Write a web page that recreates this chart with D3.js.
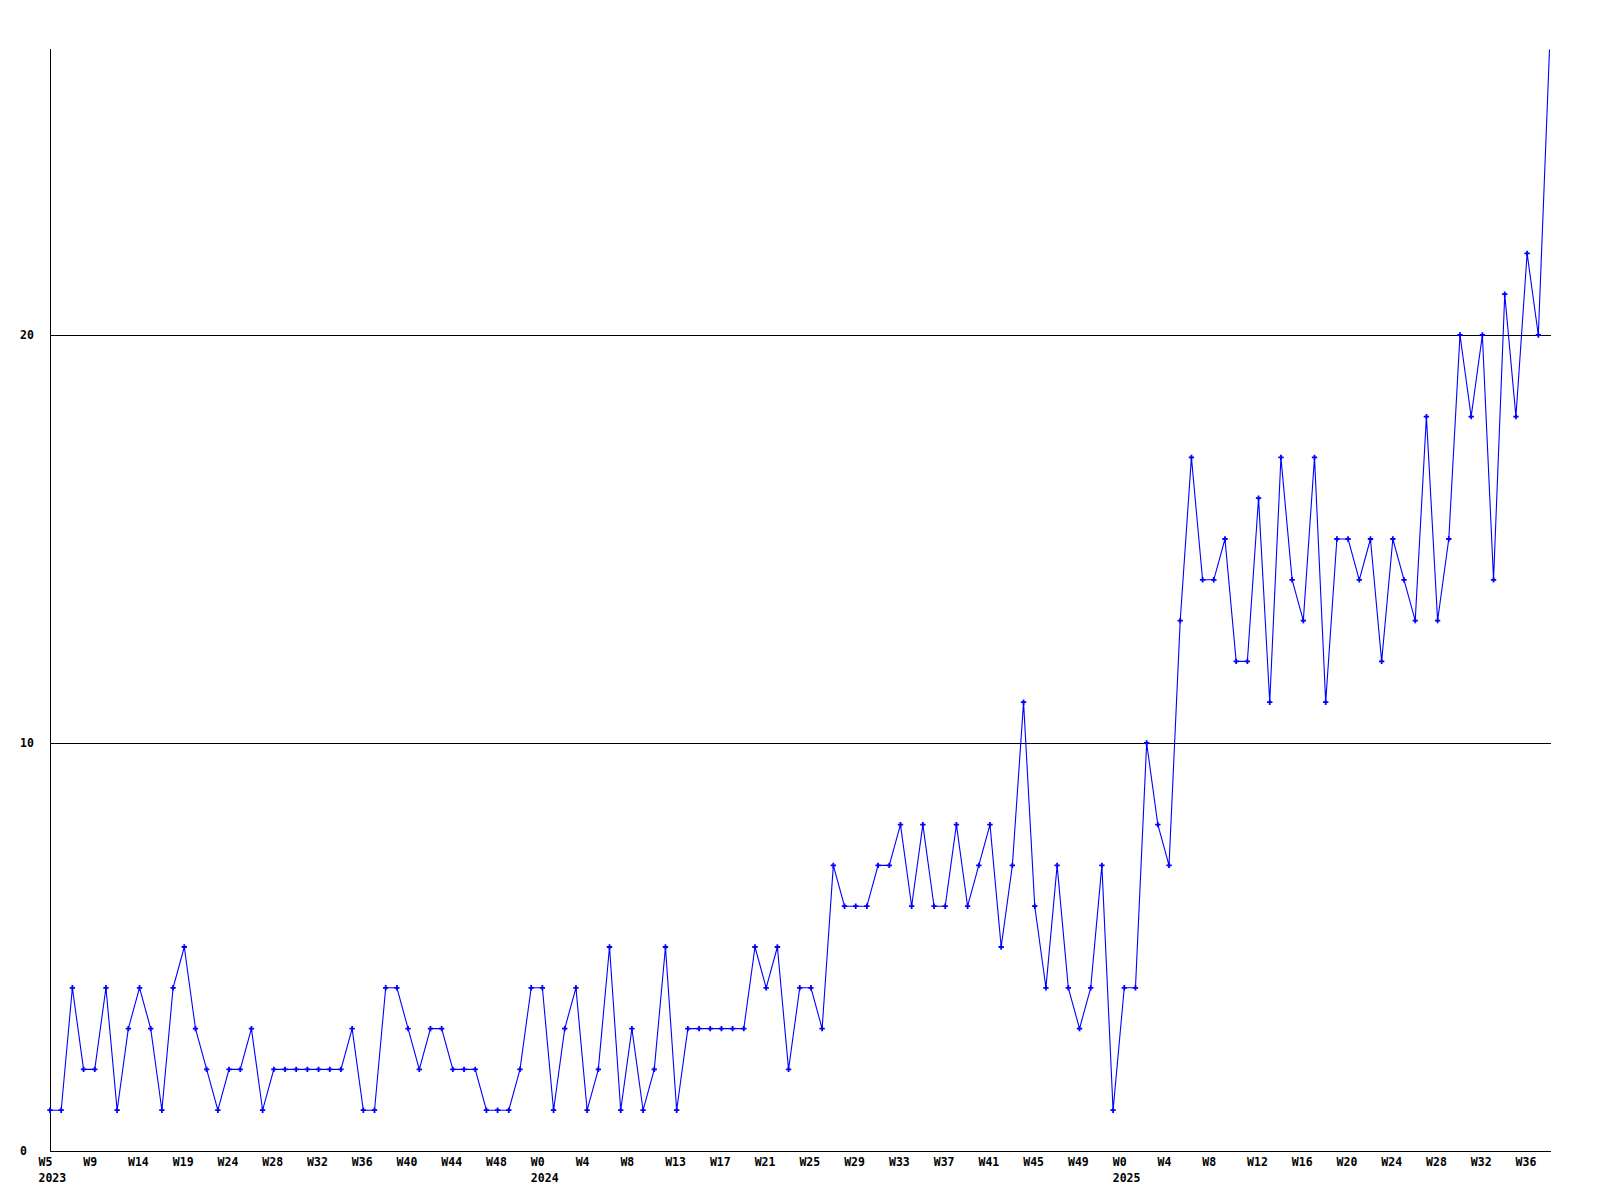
<!DOCTYPE html>
<html>
<head>
<meta charset="utf-8">
<script src="https://cdn.jsdelivr.net/npm/d3@7"></script>
<style>
  html, body { margin: 0; padding: 0; background: #ffffff; }
  svg { display: block; }
  text { font-family: "DejaVu Sans Mono", "Liberation Mono", monospace; font-weight: bold; font-size: 11.5px; fill: #000; }
</style>
</head>
<body>
<svg id="chart" width="1600" height="1200"></svg>
<script>
// Weekly values, W5 2023 .. W38 2025 (one per point)
const values = [
  1,1,4,2,2,4,1,3,4,3,
  1,4,5,3,2,1,2,2,3,1,
  2,2,2,2,2,2,2,3,1,1,
  4,4,3,2,3,3,2,2,2,1,
  1,1,2,4,4,1,3,4,1,2,
  5,1,3,1,2,5,1,3,3,3,
  3,3,3,5,4,5,2,4,4,3,
  7,6,6,6,7,7,8,6,8,6,
  6,8,6,7,8,5,7,11,6,4,
  7,4,3,4,7,1,4,4,10,8,
  7,13,17,14,14,15,12,12,16,11,
  17,14,13,17,11,15,15,14,15,12,
  15,14,13,18,13,15,20,18,20,14,
  21,18,22,20,27
];
// Week tick labels, one every 4th point
const weekLabels = ["W5","W9","W14","W19","W24","W28","W32","W36","W40","W44","W48",
  "W0","W4","W8","W13","W17","W21","W25","W29","W33","W37","W41","W45","W49",
  "W0","W4","W8","W12","W16","W20","W24","W28","W32","W36"];
const tickEvery = 4;
// Year labels and the point index at which each year starts
const yearLabels = ["2023","2024","2025"];
const yearStarts = [0, 44, 96];
// Y axis ticks
const yTicks = [0, 10, 20];
const yMax = 27;

const svg = d3.select("#chart");
const mLeft = 50, mRight = 1549.5, mTop = 49.4, mBottom = 1151;

const x = d3.scalePoint().domain(d3.range(values.length)).range([mLeft, mRight]);
const y = d3.scaleLinear().domain([0, yMax]).range([mBottom, mTop]);

// horizontal grid lines
svg.append("g").selectAll("line")
  .data(yTicks.filter(d => d > 0))
  .join("line")
  .attr("x1", mLeft).attr("x2", mRight + 1)
  .attr("y1", d => Math.round(y(d)) + 0.5).attr("y2", d => Math.round(y(d)) + 0.5)
  .attr("stroke", "#000").attr("stroke-width", 1).attr("shape-rendering", "crispEdges");

// axes lines
svg.append("line")
  .attr("x1", mLeft + 0.5).attr("x2", mLeft + 0.5)
  .attr("y1", Math.round(mTop)).attr("y2", mBottom + 0.5)
  .attr("stroke", "#000").attr("shape-rendering", "crispEdges");
svg.append("line")
  .attr("x1", mLeft).attr("x2", mRight + 1)
  .attr("y1", mBottom + 0.5).attr("y2", mBottom + 0.5)
  .attr("stroke", "#000").attr("shape-rendering", "crispEdges");

// y labels
svg.append("g").selectAll("text")
  .data(yTicks)
  .join("text")
  .attr("x", 20)
  .attr("y", d => y(d))
  .attr("dy", "0.35em")
  .text(d => d);

// x week labels
const tickIdx = weekLabels.map((_, k) => k * tickEvery);
svg.append("g").selectAll("text")
  .data(tickIdx)
  .join("text")
  .attr("x", d => x(d) - 11.5)
  .attr("y", 1166)
  .text((d, k) => weekLabels[k]);

// year labels
svg.append("g").selectAll("text")
  .data(yearStarts)
  .join("text")
  .attr("x", d => x(d) - 11.5)
  .attr("y", 1182)
  .text((d, k) => yearLabels[k]);

// data line
const line = d3.line().x((d, i) => x(i)).y(d => y(d));
svg.append("path")
  .datum(values)
  .attr("d", line)
  .attr("fill", "none")
  .attr("stroke", "#0000ff")
  .attr("stroke-width", 1.1);

// markers
svg.append("g").selectAll("path")
  .data(values.slice(0, values.length - 1))
  .join("path")
  .attr("transform", (d, i) => `translate(${x(i)},${y(d)})`)
  .attr("d", d3.symbol(d3.symbolCross, 16))
  .attr("fill", "#0000ff");
</script>
</body>
</html>
